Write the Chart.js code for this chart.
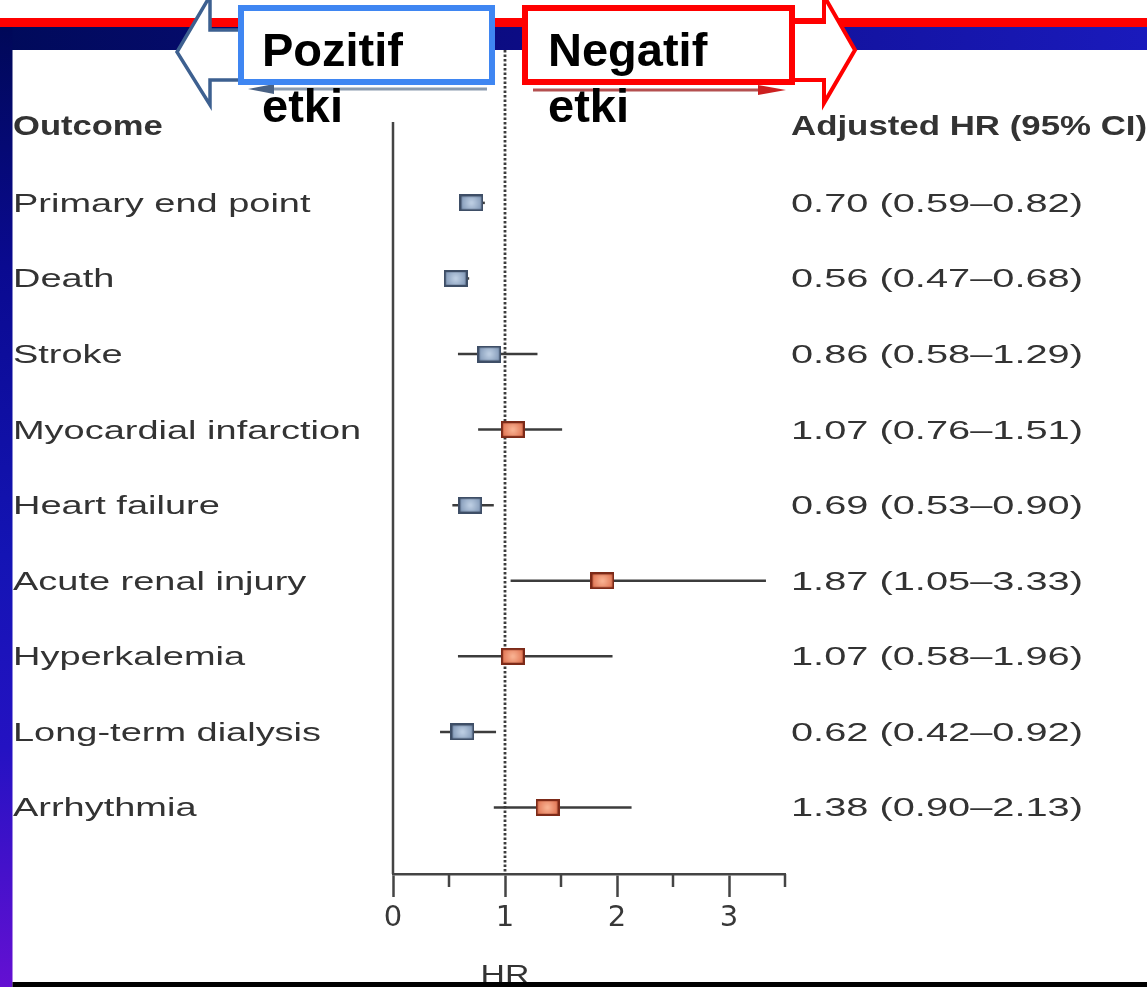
<!DOCTYPE html>
<html><head><meta charset="utf-8">
<script src="https://cdn.jsdelivr.net/npm/chart.js@4.4.1/dist/chart.umd.min.js"></script>
<style>html,body{margin:0;padding:0;background:#fff;overflow:hidden}canvas{display:block}</style>
</head><body>
<canvas id="c" width="1147" height="987"></canvas>
<script>
// ---- data ----
const OUTCOMES = ['Primary end point','Death','Stroke','Myocardial infarction','Heart failure','Acute renal injury','Hyperkalemia','Long-term dialysis','Arrhythmia'];
const HR       = [0.70, 0.56, 0.86, 1.07, 0.69, 1.87, 1.07, 0.62, 1.38];
const CI_LOW   = [0.59, 0.47, 0.58, 0.76, 0.53, 1.05, 0.58, 0.42, 0.90];
const CI_HIGH  = [0.82, 0.68, 1.29, 1.51, 0.90, 3.33, 1.96, 0.92, 2.13];
const X_TICKS = [0, 1, 2, 3];
const X_MINOR_TICKS = [0.5, 1.5, 2.5, 3.5];
const HEADER_LEFT = 'Outcome';
const HEADER_RIGHT = 'Adjusted HR (95% CI)';
const AXIS_TITLE = 'HR';
const LEFT_BOX_TEXT = ['Pozitif', 'etki'];
const RIGHT_BOX_TEXT = ['Negatif', 'etki'];

// ---- helpers ----
function makeMarker(inner, outer, stroke){
  const c = document.createElement('canvas'); c.width = 24; c.height = 17;
  const g = c.getContext('2d');
  const gr = g.createRadialGradient(12, 8.5, 1, 12, 8.5, 13);
  gr.addColorStop(0, inner); gr.addColorStop(1, outer);
  g.fillStyle = gr; g.fillRect(0, 0, 24, 17);
  g.strokeStyle = stroke; g.lineWidth = 2.2; g.strokeRect(1.1, 1.1, 21.8, 14.8);
  return c;
}
const BLUE_MARK = makeMarker('#bccde2', '#7890b0', '#3e4e66');
const RED_MARK = makeMarker('#f8b090', '#dc6a48', '#7c2a18');

function sText(ctx, txt, x, y, font, sx, color, align){
  ctx.save();
  ctx.font = font; ctx.fillStyle = color; ctx.textBaseline = 'alphabetic'; ctx.textAlign = 'left';
  ctx.translate(x, y); ctx.scale(sx, 1);
  const w = ctx.measureText(txt).width;
  ctx.fillText(txt, align === 'center' ? -w / 2 : 0, 0);
  ctx.restore();
}
const fmt = v => v.toFixed(2);
const REG = "26px 'Liberation Sans', Arial, sans-serif";
const BOLD = "bold 27px 'Liberation Sans', Arial, sans-serif";
const TXT = '#333333';

const slidePlugin = {
  id: 'slide',
  beforeDraw(chart){
    const ctx = chart.ctx, W = chart.width, H = chart.height;
    ctx.save();
    ctx.fillStyle = '#fff'; ctx.fillRect(0, 0, W, H);
    ctx.fillStyle = '#ff0000'; ctx.fillRect(0, 18, W, 9);
    let g = ctx.createLinearGradient(0, 0, W, 0);
    g.addColorStop(0, '#000a5a'); g.addColorStop(0.45, '#0c0c84'); g.addColorStop(1, '#1a1abc');
    ctx.fillStyle = g; ctx.fillRect(0, 27, W, 23);
    g = ctx.createLinearGradient(0, 27, 0, H);
    g.addColorStop(0, '#000858'); g.addColorStop(0.25, '#0a0a90'); g.addColorStop(0.55, '#1414b4');
    g.addColorStop(0.75, '#2412c2'); g.addColorStop(1, '#6410d2');
    ctx.fillStyle = g; ctx.fillRect(0, 27, 12.5, H - 27);
    ctx.restore();
  },
  beforeDatasetsDraw(chart){
    const ctx = chart.ctx, xs = chart.scales.x, a = chart.chartArea;
    ctx.save();
    ctx.strokeStyle = '#444'; ctx.lineWidth = 2.5;
    const p0 = xs.getPixelForValue(0);
    ctx.beginPath(); ctx.moveTo(p0, a.top); ctx.lineTo(p0, a.bottom); ctx.stroke();
    X_MINOR_TICKS.forEach(v => {
      const px = xs.getPixelForValue(v);
      ctx.beginPath(); ctx.moveTo(px, a.bottom); ctx.lineTo(px, a.bottom + 13); ctx.stroke();
    });
    const p1 = xs.getPixelForValue(1);
    ctx.setLineDash([2.5, 2]); ctx.strokeStyle = '#3c3c3c'; ctx.lineWidth = 2.8;
    ctx.beginPath(); ctx.moveTo(p1, 50); ctx.lineTo(p1, a.bottom); ctx.stroke();
    ctx.restore();
  },
  afterDraw(chart){
    const ctx = chart.ctx, xs = chart.scales.x, ys = chart.scales.y, W = chart.width, H = chart.height;
    // table texts
    const hy = ys.getPixelForValue(0) + 8;
    sText(ctx, HEADER_LEFT, 13, hy, BOLD, 1.28, TXT);
    sText(ctx, HEADER_RIGHT, 791, hy, BOLD, 1.29, TXT);
    OUTCOMES.forEach((name, i) => {
      const y = ys.getPixelForValue(i + 1) + 9;
      sText(ctx, name, 13, y, REG, 1.46, TXT);
      sText(ctx, `${fmt(HR[i])} (${fmt(CI_LOW[i])}\u2013${fmt(CI_HIGH[i])})`, 791, y, REG, 1.53, TXT);
    });
    sText(ctx, AXIS_TITLE, xs.getPixelForValue(1), 983, REG, 1.3, TXT, 'center');
    // bottom black bar
    ctx.save();
    ctx.fillStyle = '#000'; ctx.fillRect(12.5, 982, W, H - 982);
    // faint original-figure arrows under boxes
    ctx.strokeStyle = '#8a9aae'; ctx.lineWidth = 3;
    ctx.beginPath(); ctx.moveTo(262, 89); ctx.lineTo(487, 89); ctx.stroke();
    ctx.fillStyle = '#4a6284';
    ctx.beginPath(); ctx.moveTo(248, 89); ctx.lineTo(274, 84); ctx.lineTo(274, 94); ctx.closePath(); ctx.fill();
    ctx.strokeStyle = '#b45050';
    ctx.beginPath(); ctx.moveTo(533, 90); ctx.lineTo(765, 90); ctx.stroke();
    ctx.fillStyle = '#cc2020';
    ctx.beginPath(); ctx.moveTo(786, 90); ctx.lineTo(758, 85); ctx.lineTo(758, 95); ctx.closePath(); ctx.fill();
    // left outlined arrow
    ctx.lineJoin = 'miter';
    ctx.beginPath();
    ctx.moveTo(250, 30); ctx.lineTo(210, 30); ctx.lineTo(210, -4); ctx.lineTo(177, 52);
    ctx.lineTo(210, 105); ctx.lineTo(210, 80); ctx.lineTo(250, 80);
    ctx.fillStyle = '#fff'; ctx.fill();
    ctx.strokeStyle = '#3d6090'; ctx.lineWidth = 3.5; ctx.stroke();
    // right outlined arrow
    ctx.beginPath();
    ctx.moveTo(785, 22); ctx.lineTo(824, 22); ctx.lineTo(824, -4); ctx.lineTo(855, 50);
    ctx.lineTo(824, 103); ctx.lineTo(824, 80); ctx.lineTo(785, 80);
    ctx.fillStyle = '#fff'; ctx.fill();
    ctx.strokeStyle = '#ff0000'; ctx.lineWidth = 4; ctx.stroke();
    // boxes
    ctx.fillStyle = '#fff';
    ctx.fillRect(241, 8, 251, 74); ctx.strokeStyle = '#3f86f2'; ctx.lineWidth = 6; ctx.strokeRect(241, 8, 251, 74);
    ctx.fillRect(525, 8, 267, 74); ctx.strokeStyle = '#ff0000'; ctx.strokeRect(525, 8, 267, 74);
    ctx.restore();
    const BIG = "bold 47px 'Liberation Sans', Arial, sans-serif";
    sText(ctx, LEFT_BOX_TEXT[0], 262, 66, BIG, 1, '#000');
    sText(ctx, LEFT_BOX_TEXT[1], 262, 122, BIG, 1, '#000');
    sText(ctx, RIGHT_BOX_TEXT[0], 548, 66, BIG, 1, '#000');
    sText(ctx, RIGHT_BOX_TEXT[1], 548, 122, BIG, 1, '#000');
  }
};

const ciSets = OUTCOMES.map((name, i) => ({
  type: 'line', label: name + ' CI',
  data: [{x: CI_LOW[i], y: i + 1}, {x: CI_HIGH[i], y: i + 1}],
  borderColor: '#3c3c3c', borderWidth: 2.5, pointRadius: 0, showLine: true, order: 2
}));

new Chart(document.getElementById('c'), {
  type: 'scatter',
  data: {
    datasets: [
      ...ciSets,
      { type: 'scatter', label: 'HR', data: HR.map((v, i) => ({x: v, y: i + 1})),
        pointStyle: c => HR[c.dataIndex] > 1 ? RED_MARK : BLUE_MARK, pointRadius: 10, order: 0 }
    ]
  },
  options: {
    responsive: false, animation: false, events: [],
    layout: { padding: { left: 393, right: 362, top: 122, bottom: 53 } },
    plugins: { legend: { display: false }, tooltip: { enabled: false } },
    scales: {
      x: {
        type: 'linear', min: 0, max: 3.5, position: 'bottom',
        afterBuildTicks: axis => { axis.ticks = [...X_TICKS, ...X_MINOR_TICKS].sort((a, b) => a - b).map(v => ({value: v})); },
        afterFit: axis => { axis.height = 60; },
        border: { color: '#444', width: 2.5 },
        grid: { drawOnChartArea: false, tickLength: 23, tickWidth: 2.5,
                tickColor: c => X_TICKS.includes(c.tick.value) ? '#444' : 'rgba(0,0,0,0)' },
        ticks: { padding: 4, color: '#383838', font: { family: "'DejaVu Sans'", size: 29 },
                 autoSkip: false, maxRotation: 0,
                 callback: v => X_TICKS.includes(v) ? String(v) : '' }
      },
      y: { type: 'linear', display: false, reverse: true, min: -0.07, max: 9.88 }
    }
  },
  plugins: [slidePlugin]
});
</script>
</body></html>
